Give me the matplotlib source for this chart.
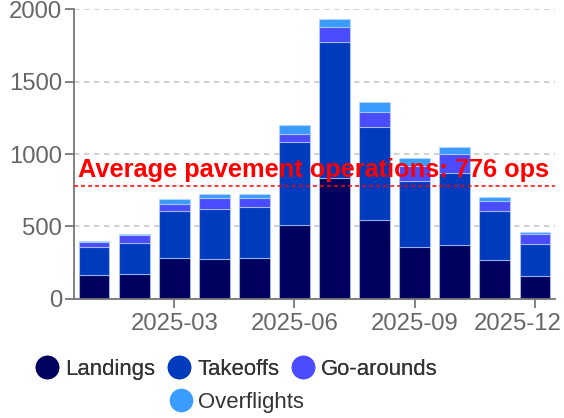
import matplotlib
matplotlib.use("Agg")
import matplotlib.pyplot as plt
from matplotlib.lines import Line2D
from matplotlib.transforms import ScaledTranslation
import numpy as np

plt.rcParams['font.family'] = ['Liberation Sans', 'DejaVu Sans']

months = ["2025-01", "2025-02", "2025-03", "2025-04", "2025-05", "2025-06",
          "2025-07", "2025-08", "2025-09", "2025-10", "2025-11", "2025-12"]
tick_labels = ["2025-03", "2025-06", "2025-09", "2025-12"]

landings = [162, 171, 279, 277, 284, 510, 837, 542, 355, 369, 270, 159]
takeoffs = [193, 212, 325, 345, 350, 570, 938, 646, 459, 502, 336, 221]
go_arounds = [35, 55, 53, 76, 64, 61, 104, 105, 106, 129, 72, 65]
overflights = [7, 12, 30, 28, 28, 58, 57, 65, 51, 49, 25, 14]

series_names = ["Landings", "Takeoffs", "Go-arounds", "Overflights"]
colors = ["#00005e", "#003bbd", "#4b4bff", "#3a9cff"]

fig = plt.figure(figsize=(5.64, 4.18), dpi=100)
ax = fig.add_axes([0.1312, 0.2854, 0.8528, 0.6923])

x = np.arange(len(months))
bottom = np.zeros(len(months))
for name, vals, c in zip(series_names, [landings, takeoffs, go_arounds, overflights], colors):
    vals = np.array(vals, dtype=float)
    ax.bar(x, vals, width=0.77, bottom=bottom, color=c,
           edgecolor=(0.75, 0.85, 1.0, 0.6), linewidth=0.8, zorder=2)
    bottom += vals

avg = float(np.mean(np.array(landings) + np.array(takeoffs)))
ax.axhline(avg, color="#ff0000", linestyle=(0, (2.6, 2.0)), linewidth=1.1, zorder=4)
ax.text(-0.39, avg + 63, f"Average pavement operations: {avg:.0f} ops",
        color="#ff0000", fontsize=18.3, fontweight="bold", ha="left", va="baseline", zorder=5)

ax.set_xlim(-0.5, 11.5)
ax.set_ylim(0, 2000)
ax.set_yticks([0, 500, 1000, 1500, 2000])
ticks = [months.index(t) for t in tick_labels]
ax.set_xticks(ticks)
ax.set_xticklabels(tick_labels)

ax.yaxis.grid(True, color="#c8c8c8", linestyle=(0, (3.2, 2.8)), linewidth=1.2, zorder=0)
ax.set_axisbelow(True)
for s in ["top", "right"]:
    ax.spines[s].set_visible(False)
for s in ["left", "bottom"]:
    ax.spines[s].set_color("#777777")
    ax.spines[s].set_linewidth(1.3)
ax.tick_params(axis="both", colors="#777777", labelcolor="#666666", labelsize=17.2,
               length=6.5, width=1.3, direction="out")
ax.tick_params(axis="y", pad=2)
ax.tick_params(axis="x", pad=4)

# keep the last x label inside the figure
last = ax.get_xticklabels()[-1]
last.set_transform(last.get_transform() + ScaledTranslation(-17 / 100, 0, fig.dpi_scale_trans))

handles = [Line2D([], [], marker="o", linestyle="none", markersize=16,
                  markerfacecolor=c, markeredgecolor=c) for c in colors]
leg1 = fig.legend(handles[:3], series_names[:3], loc="center", bbox_to_anchor=(237 / 564, 0.117),
                  ncol=3, frameon=False, fontsize=15.9, handlelength=1.0, handletextpad=0.3,
                  columnspacing=0.6, labelcolor="#333333", borderpad=0)
fig.add_artist(leg1)
fig.legend(handles[3:], series_names[3:], loc="center", bbox_to_anchor=(237 / 564, 0.038),
           ncol=1, frameon=False, fontsize=15.9, handlelength=1.0, handletextpad=0.3,
           labelcolor="#333333", borderpad=0)

fig.savefig("out.png", dpi=100)
